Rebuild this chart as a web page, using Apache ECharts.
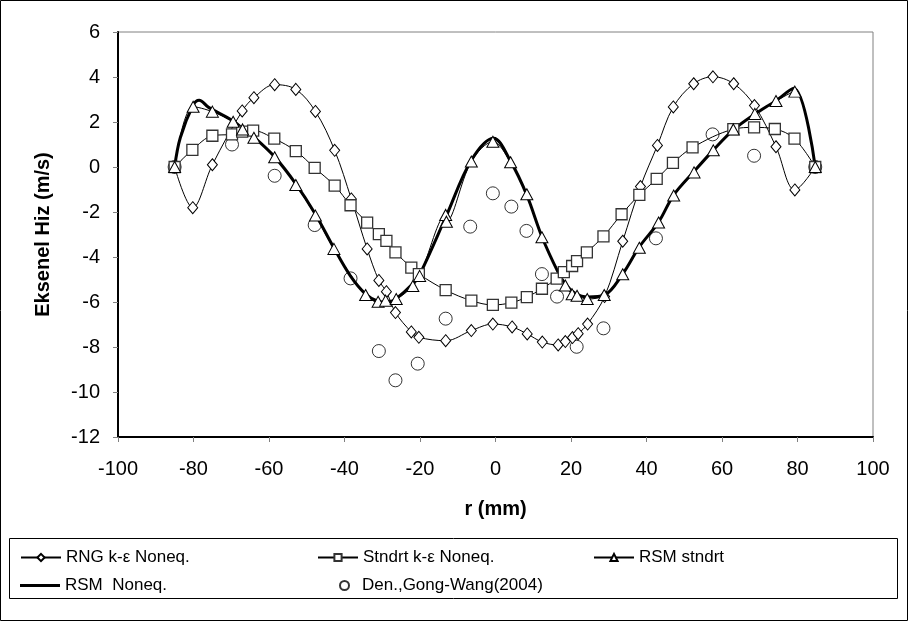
<!DOCTYPE html>
<html>
<head>
<meta charset="utf-8">
<title>Eksenel Hiz</title>
<script src="https://cdn.jsdelivr.net/npm/echarts@6/dist/echarts.min.js"></script>
<style>
  html, body { margin: 0; padding: 0; background: #fff; }
  #chart { width: 908px; height: 621px; }
</style>
</head>
<body>
<div id="chart"></div>
<script>
'use strict';

// r (mm) / eksenel hiz (m/s) degerleri
const rngX = [-85, -80.2, -75, -67.1, -64, -58.5, -52.9, -47.7, -42.6, -38.2, -34, -30.9, -28.9, -26.5, -22.3, -20.3, -13.2, -6.4, -0.7, 4.4, 8.4, 12.4, 16.6, 18.5, 20.4, 21.9, 24.4, 28.9, 33.7, 38.4, 42.9, 47.1, 52.5, 57.6, 63.1, 68.6, 74.3, 79.3, 84.7];
const rngY = [0, -1.81, 0.1, 2.49, 3.08, 3.66, 3.45, 2.47, 0.74, -1.42, -3.64, -5.04, -5.54, -6.47, -7.33, -7.57, -7.72, -7.27, -6.98, -7.11, -7.42, -7.78, -7.91, -7.76, -7.58, -7.41, -6.98, -5.76, -3.3, -0.87, 0.96, 2.67, 3.7, 4.01, 3.7, 2.73, 0.9, -1.02, 0];

const stdX = [-85, -80.3, -75, -69.8, -67.1, -64.2, -58.6, -52.9, -47.9, -42.6, -38.4, -34, -30.9, -28.9, -26.5, -22.3, -20.3, -13.2, -6.4, -0.7, 4.2, 8.3, 12.3, 16.2, 18.1, 20.3, 21.6, 24.2, 28.6, 33.4, 38.1, 42.7, 47, 52.2, 63, 68.5, 74, 79.2, 84.7];
const stdY = [0, 0.76, 1.39, 1.45, 1.57, 1.62, 1.26, 0.71, -0.04, -0.83, -1.7, -2.47, -2.98, -3.28, -3.79, -4.47, -4.76, -5.47, -5.94, -6.13, -6.03, -5.78, -5.41, -4.96, -4.67, -4.4, -4.18, -3.79, -3.08, -2.1, -1.24, -0.53, 0.18, 0.87, 1.68, 1.76, 1.69, 1.26, 0];

const rsmX = [-85, -80.1, -75, -69.5, -67, -64, -58.5, -52.9, -47.7, -42.8, -34.4, -31.1, -29.1, -26.3, -21.9, -20.1, -13.2, -13, -6.4, -0.7, 4, 8.3, 12.3, 18.5, 20.3, 21.6, 24.3, 28.8, 33.7, 38.1, 43.2, 47.2, 52.6, 57.7, 63, 68.7, 74.3, 79.3, 84.7];
const rsmY = [0, 2.68, 2.46, 2.01, 1.67, 1.3, 0.43, -0.8, -2.16, -3.64, -5.69, -5.99, -5.94, -5.87, -5.29, -4.84, -2.13, -2.43, 0.24, 1.12, 0.21, -1.21, -3.12, -5.27, -5.66, -5.72, -5.87, -5.69, -4.77, -3.59, -2.47, -1.27, -0.24, 0.74, 1.67, 2.36, 2.93, 3.35, 0];

const noneqX = [-85, -83.5, -80.1, -78.5, -76, -69.5, -67, -64, -58.5, -52.9, -47.7, -42.8, -38.4, -34.4, -31, -28.5, -26.3, -22, -20, -13.1, -6.4, -0.5, 4, 8.3, 12.3, 16.5, 18.5, 21, 24.5, 28.8, 33.7, 38.1, 43.2, 47.2, 52.6, 57.7, 63, 68.7, 74.3, 79, 84.7];
const noneqY = [0, 1.3, 2.75, 2.97, 2.65, 2.05, 1.7, 1.33, 0.45, -0.75, -2.1, -3.6, -4.85, -5.65, -5.98, -6.02, -5.85, -5.2, -4.75, -2.2, 0.3, 1.28, 0.25, -1.25, -3.1, -4.65, -5.2, -5.6, -5.78, -5.7, -4.75, -3.55, -2.45, -1.25, -0.2, 0.75, 1.65, 2.35, 2.95, 3.5, 0];

const expX = [-85, -69.8, -58.5, -47.9, -38.4, -30.9, -26.5, -20.6, -13.2, -6.7, -0.7, 4.2, 8.2, 12.3, 16.3, 21.5, 28.6, 42.5, 57.5, 68.5, 84.7];
const expY = [0, 1.0, -0.39, -2.58, -4.95, -8.18, -9.48, -8.74, -6.74, -2.65, -1.17, -1.76, -2.84, -4.76, -5.76, -7.99, -7.17, -3.17, 1.45, 0.5, 0];

const names = ['RNG k-ε Noneq.', 'Stndrt k-ε Noneq.', 'RSM stndrt', 'RSM  Noneq.', 'Den.,Gong-Wang(2004)'];

window.addEventListener('load', () => {
    const pairs = (xs, ys) => xs.map((x, i) => [x, ys[i]]);
    const font = '"Liberation Sans", Arial, sans-serif';
    const hollow = { color: '#fff', borderColor: '#000', borderWidth: 1 };

    const chart = echarts.init(document.getElementById('chart'), null, { renderer: 'canvas' });

    // legend: bir kutu, her oge ayri konumlu
    const legendBase = {
        orient: 'horizontal',
        padding: 0,
        itemWidth: 40,
        itemHeight: 9,
        itemGap: 0,
        selectedMode: false,
        textStyle: { fontFamily: font, fontSize: 17, color: '#000' }
    };
    const legends = [
        { left: 20, top: 549, data: [names[0]] },
        { left: 317, top: 549, data: [names[1]] },
        { left: 593, top: 549, data: [names[2]] },
        { left: 20, top: 577, itemHeight: 3, data: [{ name: names[3], icon: 'rect' }] },
        { left: 339, top: 577, itemWidth: 9,
          textStyle: { fontFamily: font, fontSize: 17, color: '#000', padding: [0, 0, 0, 8] },
          data: [names[4]] }
    ].map(l => Object.assign({}, legendBase, l));

    const option = {
        animation: false,
        backgroundColor: '#fff',
        grid: {
            left: 118, right: 35, top: 32, bottom: 184,
            show: true, borderColor: '#808080', borderWidth: 1
        },
        legend: legends,
        graphic: [
            { type: 'rect', shape: { x: 0.5, y: 0.5, width: 907, height: 620 }, style: { fill: 'none', stroke: '#000', lineWidth: 1 }, silent: true },
            { type: 'rect', shape: { x: 9.5, y: 538.5, width: 888, height: 60 }, style: { fill: 'none', stroke: '#000', lineWidth: 1 }, silent: true }
        ],
        xAxis: {
            type: 'value',
            min: -100, max: 100, interval: 20,
            name: 'r (mm)',
            nameLocation: 'middle',
            nameGap: 62,
            nameTextStyle: { fontFamily: font, fontSize: 20, fontWeight: 'bold', color: '#000' },
            axisLine: { onZero: false, lineStyle: { color: '#000', width: 2 } },
            axisTick: { inside: false, length: 5, lineStyle: { color: '#808080' } },
            axisLabel: { margin: 22, fontFamily: font, fontSize: 20, color: '#000' },
            splitLine: { show: false }
        },
        yAxis: {
            type: 'value',
            min: -12, max: 6, interval: 2,
            name: 'Eksenel Hiz (m/s)',
            nameLocation: 'middle',
            nameGap: 65,
            nameTextStyle: { fontFamily: font, fontSize: 20, fontWeight: 'bold', color: '#000' },
            axisLine: { onZero: false, lineStyle: { color: '#000', width: 2 } },
            axisTick: { inside: false, length: 5, lineStyle: { color: '#808080' } },
            axisLabel: { margin: 18, fontFamily: font, fontSize: 20, color: '#000' },
            splitLine: { show: false }
        },
        series: [
            {
                name: names[0], type: 'line', smooth: 0.35,
                data: pairs(rngX, rngY),
                symbol: 'diamond', symbolSize: [10, 12],
                itemStyle: hollow,
                lineStyle: { color: '#000', width: 1 }
            },
            {
                name: names[1], type: 'line', smooth: 0.35,
                data: pairs(stdX, stdY),
                symbol: 'rect', symbolSize: 11,
                itemStyle: { color: '#fff', borderColor: '#333', borderWidth: 1.3 },
                lineStyle: { color: '#000', width: 1 }
            },
            {
                name: names[2], type: 'line', smooth: 0.35,
                data: pairs(rsmX, rsmY),
                symbol: 'triangle', symbolSize: [12, 11],
                itemStyle: hollow,
                lineStyle: { color: '#000', width: 1 }
            },
            {
                name: names[3], type: 'line', smooth: 0.35,
                data: pairs(noneqX, noneqY),
                symbol: 'none',
                itemStyle: { color: '#000' },
                lineStyle: { color: '#000', width: 3 }
            },
            {
                name: names[4], type: 'scatter',
                data: pairs(expX, expY),
                symbol: 'circle', symbolSize: 13,
                itemStyle: hollow
            }
        ]
    };

    chart.setOption(option);
});
</script>
</body>
</html>
